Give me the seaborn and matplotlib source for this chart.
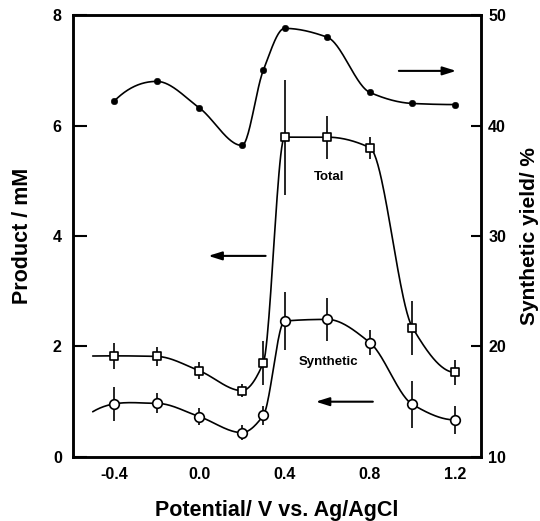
import numpy as np
import pandas as pd
import matplotlib
matplotlib.use('Agg')
import matplotlib.pyplot as plt
import seaborn as sns

# Data
potential = [-0.4, -0.2, 0.0, 0.2, 0.3, 0.4, 0.6, 0.8, 1.0, 1.2]
total = [1.83, 1.82, 1.56, 1.20, 1.70, 5.79, 5.79, 5.60, 2.34, 1.53]
total_err = [0.24, 0.17, 0.15, 0.12, 0.40, 1.04, 0.39, 0.20, 0.49, 0.22]
synthetic = [0.96, 0.97, 0.73, 0.44, 0.75, 2.46, 2.49, 2.07, 0.95, 0.67]
synthetic_err = [0.31, 0.18, 0.15, 0.14, 0.18, 0.53, 0.39, 0.22, 0.42, 0.26]
yield_pct = [42.2, 44.0, 41.6, 38.2, 45.0, 48.8, 48.0, 43.0, 42.0, 41.9]


def pchip(x, y, xn):
    # monotone cubic hermite, used only to draw the smooth guide lines
    x = np.asarray(x, float)
    y = np.asarray(y, float)
    h = np.diff(x)
    d = np.diff(y) / h
    n = len(x)
    m = np.zeros(n)
    for k in range(1, n - 1):
        if d[k - 1] * d[k] > 0:
            w1 = 2 * h[k] + h[k - 1]
            w2 = h[k] + 2 * h[k - 1]
            m[k] = (w1 + w2) / (w1 / d[k - 1] + w2 / d[k])
    m[0] = ((2 * h[0] + h[1]) * d[0] - h[0] * d[1]) / (h[0] + h[1])
    if np.sign(m[0]) != np.sign(d[0]):
        m[0] = 0
    m[-1] = ((2 * h[-1] + h[-2]) * d[-1] - h[-1] * d[-2]) / (h[-1] + h[-2])
    if np.sign(m[-1]) != np.sign(d[-1]):
        m[-1] = 0
    idx = np.clip(np.searchsorted(x, xn) - 1, 0, n - 2)
    t = (xn - x[idx]) / h[idx]
    h00 = 2 * t**3 - 3 * t**2 + 1
    h10 = t**3 - 2 * t**2 + t
    h01 = -2 * t**3 + 3 * t**2
    h11 = t**3 - t**2
    return (h00 * y[idx] + h10 * h[idx] * m[idx]
            + h01 * y[idx + 1] + h11 * h[idx] * m[idx + 1])


sns.set_style("white")
plt.rcParams['font.family'] = ['Liberation Sans', 'DejaVu Sans']
plt.rcParams['font.weight'] = 'bold'
for key in ['text.color', 'axes.labelcolor', 'xtick.color', 'ytick.color']:
    plt.rcParams[key] = 'black'

fig = plt.figure(figsize=(5.4, 5.21), dpi=100)
ax = fig.add_axes([0.135, 0.123, 0.756, 0.848])
ax2 = ax.twinx()

df = pd.DataFrame({'potential': potential, 'total': total, 'total_err': total_err,
                   'synthetic': synthetic, 'synthetic_err': synthetic_err,
                   'yield': yield_pct})

xs = np.linspace(-0.5, 1.2, 400)
xs2 = np.linspace(-0.4, 1.2, 400)

# product curves (left axis)
ax.plot(xs, pchip(potential, total, xs), color='black', lw=1.2, zorder=2)
ax.plot(xs, pchip(potential, synthetic, xs), color='black', lw=1.2, zorder=2)
ax.errorbar(potential, total, yerr=total_err, fmt='none', ecolor='black',
            elinewidth=1.2, capsize=0, zorder=2)
ax.errorbar(potential, synthetic, yerr=synthetic_err, fmt='none', ecolor='black',
            elinewidth=1.2, capsize=0, zorder=2)
sns.scatterplot(data=df, x='potential', y='total', marker='s', s=34,
                facecolor='white', edgecolor='black', linewidth=1.2, ax=ax, zorder=3)
sns.scatterplot(data=df, x='potential', y='synthetic', marker='o', s=48,
                facecolor='white', edgecolor='black', linewidth=1.2, ax=ax, zorder=3)

# synthetic yield (right axis)
ax2.plot(xs2, pchip(potential, yield_pct, xs2), color='black', lw=1.2, zorder=2)
sns.scatterplot(data=df, x='potential', y='yield', marker='o', s=22,
                color='black', edgecolor='black', ax=ax2, zorder=3)

ax.set_xlim(-0.593, 1.322)
ax.set_ylim(0, 8)
ax2.set_ylim(10, 50)

ax.set_xticks([-0.4, 0.0, 0.4, 0.8, 1.2])
ax.set_xticklabels(['-0.4', '0.0', '0.4', '0.8', '1.2'])
ax.set_xticks([-0.2, 0.2, 0.6, 1.0], minor=True)
ax.set_yticks([0, 2, 4, 6, 8])
ax2.set_yticks([10, 20, 30, 40, 50])

ax.tick_params(axis='x', which='major', direction='in', length=8, width=1.5,
               labelsize=11.5, pad=7, top=False)
ax.tick_params(axis='x', which='minor', direction='in', length=5, width=1.2, top=False)
ax.tick_params(axis='y', which='major', direction='in', length=10, width=1.5,
               labelsize=11.5, pad=8, right=False)
ax2.tick_params(axis='y', direction='in', length=7, width=1.5, labelsize=11.5, pad=5)

for a in (ax, ax2):
    for s in a.spines.values():
        s.set_linewidth(1.8)
        s.set_color('black')

ax.set_xlabel('Potential/ V vs. Ag/AgCl', fontsize=15.5, fontweight='bold')
ax.set_ylabel('Product / mM', fontsize=15.5, fontweight='bold', va='center')
ax2.set_ylabel('Synthetic yield/ %', fontsize=15, fontweight='bold', va='center')
ax.xaxis.set_label_coords(0.5, -0.097)
ax.yaxis.set_label_coords(-0.123, 0.5)
ax2.yaxis.set_label_coords(1.118, 0.5)

ax.text(0.607, 5.07, 'Total', ha='center', va='center', fontsize=9.5, fontweight='bold')
ax.text(0.607, 1.72, 'Synthetic', ha='center', va='center', fontsize=9.5, fontweight='bold')

arrow = dict(arrowstyle='-|>,head_length=0.8,head_width=0.25', color='black', lw=1.5,
             shrinkA=0, shrinkB=0)
ax.annotate('', xy=(0.042, 3.64), xytext=(0.311, 3.64), arrowprops=arrow)
ax.annotate('', xy=(1.205, 6.99), xytext=(0.936, 6.99), arrowprops=arrow)
ax.annotate('', xy=(0.546, 1.0), xytext=(0.814, 1.0), arrowprops=arrow)

ax.set_zorder(ax2.get_zorder() + 1)
ax.patch.set_visible(False)

fig.savefig('out.png', dpi=100)
